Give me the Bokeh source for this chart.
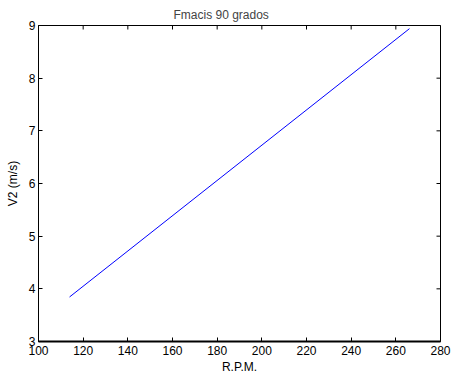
import math
from bokeh.plotting import figure
from bokeh.models import LinearAxis, FixedTicker, Range1d
from bokeh.embed import file_html
from bokeh.resources import INLINE

rpm = [113.9, 266.1]
v2 = [3.845, 8.94]
x_ticks = [100, 120, 140, 160, 180, 200, 220, 240, 260, 280]
y_ticks = [3, 4, 5, 6, 7, 8, 9]
x_min, x_max = 100, 280
y_min, y_max = 3, 9

FONT = "Liberation Sans"

p = figure(width=451, height=376, output_backend="svg", toolbar_location=None,
           x_range=Range1d(x_min, x_max), y_range=Range1d(y_min, y_max),
           x_axis_location=None, y_axis_location=None,
           min_border_left=38, min_border_right=11, min_border_top=25, min_border_bottom=33)
p.background_fill_color = "white"
p.border_fill_color = "white"
p.outline_line_color = "black"
p.outline_line_width = 1
p.xgrid.visible = False
p.ygrid.visible = False

p.title.text = "Fmacis 90 grados"
p.title.text_font = FONT
p.title.text_font_size = "12px"
p.title.text_font_style = "normal"
p.title.align = "left"
p.title.offset = 135
p.title.standoff = 8


def style(ax):
    ax.major_tick_in = 4
    ax.major_tick_out = 0
    ax.minor_tick_in = 0
    ax.minor_tick_out = 0
    ax.major_tick_line_color = "black"
    ax.axis_line_color = "black"
    ax.major_label_text_font = FONT
    ax.major_label_text_font_size = "12px"
    ax.major_label_text_color = "black"
    ax.axis_label_text_font = FONT
    ax.axis_label_text_font_size = "12px"
    ax.axis_label_text_font_style = "normal"
    ax.axis_label_text_color = "black"


xb = LinearAxis(axis_label="R.P.M.", ticker=FixedTicker(ticks=x_ticks))
style(xb)
xb.axis_line_width = 2
xb.major_label_standoff = 4
xb.axis_label_standoff = 2
p.add_layout(xb, "below")

yl = LinearAxis(axis_label="V2 (m/s)", ticker=FixedTicker(ticks=y_ticks))
style(yl)
yl.major_label_standoff = 3
yl.axis_label_standoff = 6
p.add_layout(yl, "left")

# inward ticks on the top and right edges (half of each dash is clipped by the frame)
p.scatter(x_ticks, [y_max] * len(x_ticks), marker="dash", size=8, angle=math.pi / 2,
          line_color="black", line_width=1)
p.scatter([x_max] * len(y_ticks), y_ticks, marker="dash", size=8,
          line_color="black", line_width=1)

p.line(rpm, v2, line_color="#0000FF", line_width=1)

open("out.html", "w").write(file_html(p, INLINE))
